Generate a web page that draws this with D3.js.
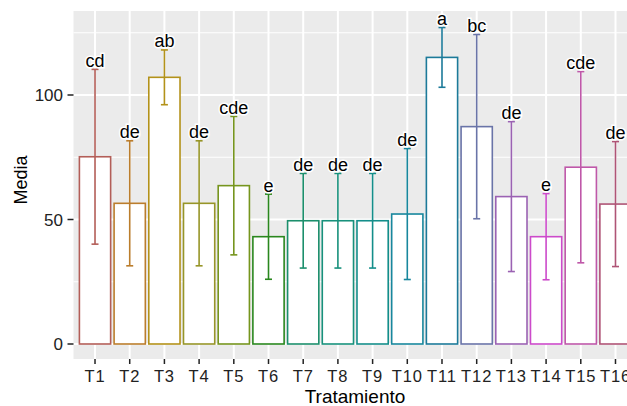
<!DOCTYPE html>
<html>
<head>
<meta charset="utf-8">
<script src="https://cdn.jsdelivr.net/npm/d3@7"></script>
<style>
  body { margin: 0; background: #fff; }
  svg { display: block; font-family: "Liberation Sans", Arial, sans-serif; }
</style>
</head>
<body>
<svg id="chart" width="627" height="406"></svg>
<script>
// data
const tratamientos = ["T1","T2","T3","T4","T5","T6","T7","T8","T9","T10","T11","T12","T13","T14","T15","T16"];
const medias = [75.2, 56.5, 107.1, 56.5, 63.6, 43.1, 49.5, 49.5, 49.5, 52.2, 115.1, 87.3, 59.2, 43.1, 71.0, 56.2];
const desvios = [35.1, 25.1, 11.0, 25.1, 27.8, 17.1, 19.0, 19.0, 19.0, 26.3, 12.0, 37.0, 30.1, 17.3, 38.4, 25.1];
const letras = ["cd","de","ab","de","cde","e","de","de","de","de","a","bc","de","e","cde","de"];
const yTicks = [0, 50, 100];
const yMinor = [25, 75, 125];

const colores = ["#B35E58","#BB7D2C","#B3921A","#979528","#76951E","#2A871E","#1C8F6C","#18917C",
                 "#148E8A","#18879D","#1C7A99","#6A74A8","#9B62B3","#CC4ACA","#BF58A9","#AF5476"];

const svg = d3.select("#chart");

const panel = { left: 73.5, top: 11, right: 637, bottom: 359 };

const x = d3.scalePoint()
    .domain(tratamientos)
    .range([panel.left, panel.right])
    .padding(0.62);
const step = x.step();
const barW = step * 0.9;

const y = d3.scaleLinear().domain([0, 100]).range([344, 95]);

// panel background
svg.append("rect")
    .attr("x", panel.left).attr("y", panel.top)
    .attr("width", panel.right - panel.left).attr("height", panel.bottom - panel.top)
    .attr("fill", "#EBEBEB");

const grid = svg.append("g");
grid.selectAll(".minor").data(yMinor).enter().append("line")
    .attr("x1", panel.left).attr("x2", panel.right)
    .attr("y1", d => y(d)).attr("y2", d => y(d))
    .attr("stroke", "#fff").attr("stroke-width", 1);
grid.selectAll(".major").data(yTicks).enter().append("line")
    .attr("x1", panel.left).attr("x2", panel.right)
    .attr("y1", d => y(d)).attr("y2", d => y(d))
    .attr("stroke", "#fff").attr("stroke-width", 2);
grid.selectAll(".vmajor").data(tratamientos).enter().append("line")
    .attr("x1", d => x(d)).attr("x2", d => x(d))
    .attr("y1", panel.top).attr("y2", panel.bottom)
    .attr("stroke", "#fff").attr("stroke-width", 2);

const data = tratamientos.map((t, i) => ({
    t, m: medias[i], sd: desvios[i], letra: letras[i], col: colores[i]
}));

// bars
svg.append("g").selectAll("rect").data(data).enter().append("rect")
    .attr("x", d => x(d.t) - barW / 2)
    .attr("y", d => y(d.m))
    .attr("width", barW)
    .attr("height", d => y(0) - y(d.m))
    .attr("fill", "#fff")
    .attr("stroke", d => d.col)
    .attr("stroke-width", 1.6);

// error bars
const eb = svg.append("g").selectAll("g").data(data).enter().append("g")
    .attr("stroke", d => d.col).attr("stroke-width", 1.6);
eb.append("line")
    .attr("x1", d => x(d.t)).attr("x2", d => x(d.t))
    .attr("y1", d => y(d.m + d.sd)).attr("y2", d => y(d.m - d.sd));
eb.append("line")
    .attr("x1", d => x(d.t) - 3.5).attr("x2", d => x(d.t) + 3.5)
    .attr("y1", d => y(d.m + d.sd)).attr("y2", d => y(d.m + d.sd));
eb.append("line")
    .attr("x1", d => x(d.t) - 3.5).attr("x2", d => x(d.t) + 3.5)
    .attr("y1", d => y(d.m - d.sd)).attr("y2", d => y(d.m - d.sd));

// letters with white halo
svg.append("g").selectAll("text").data(data).enter().append("text")
    .attr("x", d => x(d.t))
    .attr("y", d => y(d.m + d.sd) - 2.5)
    .attr("text-anchor", "middle")
    .attr("font-size", 18)
    .attr("fill", "#000")
    .attr("stroke", "#fff").attr("stroke-width", 3)
    .attr("paint-order", "stroke")
    .text(d => d.letra);

// y axis
const yAxis = svg.append("g");
yAxis.selectAll("line").data(yTicks).enter().append("line")
    .attr("x1", 67.5).attr("x2", panel.left)
    .attr("y1", d => y(d)).attr("y2", d => y(d))
    .attr("stroke", "#222").attr("stroke-width", 1.5);
yAxis.selectAll("text").data(yTicks).enter().append("text")
    .attr("x", 63).attr("y", d => y(d))
    .attr("dy", "0.36em")
    .attr("text-anchor", "end")
    .attr("font-size", 17)
    .attr("fill", "#222")
    .text(d => d);

// x axis
const xAxis = svg.append("g");
xAxis.selectAll("line").data(tratamientos).enter().append("line")
    .attr("x1", d => x(d)).attr("x2", d => x(d))
    .attr("y1", panel.bottom).attr("y2", panel.bottom + 5)
    .attr("stroke", "#222").attr("stroke-width", 1.5);
xAxis.selectAll("text").data(tratamientos).enter().append("text")
    .attr("x", d => x(d)).attr("y", 381.5)
    .attr("text-anchor", "middle")
    .attr("font-size", 16.5)
    .attr("letter-spacing", 0.9)
    .attr("fill", "#222")
    .text(d => d);

svg.append("text")
    .attr("x", 355).attr("y", 402.5)
    .attr("text-anchor", "middle")
    .attr("font-size", 19)
    .text("Tratamiento");

svg.append("text")
    .attr("transform", "translate(27,180) rotate(-90)")
    .attr("text-anchor", "middle")
    .attr("font-size", 18)
    .text("Media");
</script>
</body>
</html>
